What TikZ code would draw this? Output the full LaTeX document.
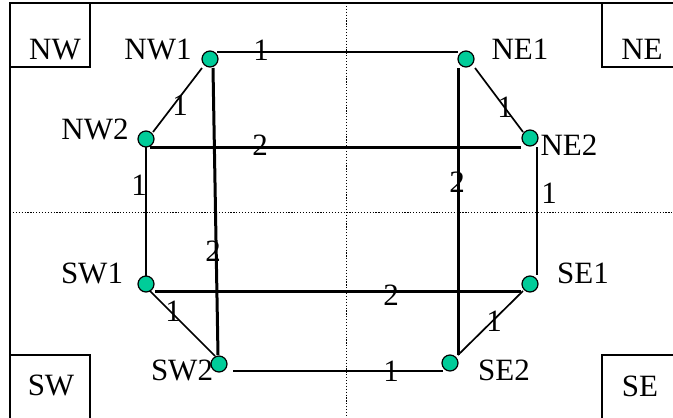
\documentclass[tikz,border=0pt]{standalone}
\usepackage{fontspec}
\setmainfont{Liberation Serif}
\definecolor{dotgreen}{RGB}{0,204,153}
\begin{document}
\begin{tikzpicture}[x=1pt,y=-1pt,
  frame/.style={line width=1.6pt},
  dotline/.style={line width=1pt, dash pattern=on 1.2pt off 1.7pt},
  thinedge/.style={line width=1.7pt},
  thickedge/.style={line width=3pt},
  dot/.style={circle, draw, line width=1.2pt, fill=dotgreen, minimum size=16pt, inner sep=0pt},
  lbl/.style={font=\fontsize{31}{36}\selectfont, inner sep=0pt, anchor=base},
  wlbl/.style={lbl}]
\useasboundingbox (0,0) rectangle (673,418);
\clip (0,0) rectangle (673,418);
% frame and corner boxes
\draw[frame] (10,440) -- (10,3) -- (690,3);
\draw[frame] (10,3) rectangle (90,67);
\draw[frame] (602,3) rectangle (690,67);
\draw[frame] (10,355) rectangle (90,440);
\draw[frame] (602,355) rectangle (690,440);
% dotted quadrant lines
\draw[dotline] (346,3) -- (346,418);
\draw[dotline] (10,212) -- (673,212);
% corner labels
\node[lbl] (nwt) at (55,59) {NW};
\node[lbl] (net) at (642,59) {NE};
\node[lbl] (swt) at (51,395) {SW};
\node[lbl] (set) at (640,396) {SE};
% nodes (positions)
\coordinate (NW1) at (210,59);
\coordinate (NW2) at (146,139);
\coordinate (NE1) at (466,59);
\coordinate (NE2) at (530,138);
\coordinate (SW1) at (146,284);
\coordinate (SW2) at (219,364);
\coordinate (SE1) at (530,284);
\coordinate (SE2) at (450,363);
% edges
\draw[thinedge] ([shift={(7,-7)}]NW1) -- ([shift={(-8,-7)}]NE1);
\draw[thinedge] ([shift={(-8,9)}]NW1) -- ([shift={(7,-7)}]NW2);
\draw[thickedge] ([shift={(4,8)}]NW2) -- ([shift={(-9,9)}]NE2);
\draw[thinedge] ([shift={(0,8)}]NW2) -- ([shift={(0,-8)}]SW1);
\draw[thickedge] ([shift={(3,9)}]NW1) -- ([shift={(-1,-9)}]SW2);
\draw[thinedge] ([shift={(9,9)}]NE1) -- ([shift={(-7,-6)}]NE2);
\draw[thickedge] ([shift={(-8,9)}]NE1) -- ([shift={(8,-8)}]SE2);
\draw[thinedge] ([shift={(7,9)}]NE2) -- ([shift={(7,-9)}]SE1);
\draw[thickedge] ([shift={(9,7)}]SW1) -- ([shift={(-9,7)}]SE1);
\draw[thinedge] ([shift={(3,6)}]SW1) -- ([shift={(-4,-8)}]SW2);
\draw[thinedge] ([shift={(-7,7)}]SE1) -- ([shift={(8,-8)}]SE2);
\draw[thinedge] ([shift={(14,7)}]SW2) -- ([shift={(-7,8)}]SE2);
% dots
\foreach \n in {NW1,NW2,NE1,NE2,SW1,SW2,SE1,SE2}
  \node[dot] (d\n) at (\n) {};
% node labels
\node[lbl] (tNW1) at (158,59) {NW1};
\node[lbl] (tNW2) at (95,139) {NW2};
\node[lbl] (tNE1) at (520,59) {NE1};
\node[lbl] (tNE2) at (569,155) {NE2};
\node[lbl] (tSW1) at (92,283) {SW1};
\node[lbl] (tSW2) at (182,380) {SW2};
\node[lbl] (tSE1) at (583,283) {SE1};
\node[lbl] (tSE2) at (504,380) {SE2};
% edge weights
\node[wlbl] (w1) at (261,60) {1};
\node[wlbl] (w2) at (180,115) {1};
\node[wlbl] (w3) at (260,155) {2};
\node[wlbl] (w4) at (139,195) {1};
\node[wlbl] (w5) at (213,261) {2};
\node[wlbl] (w6) at (505,117) {1};
\node[wlbl] (w7) at (457,192) {2};
\node[wlbl] (w8) at (549,203) {1};
\node[wlbl] (w9) at (391,305) {2};
\node[wlbl] (w10) at (173,321) {1};
\node[wlbl] (w11) at (494,331) {1};
\node[wlbl] (w12) at (391,381) {1};
\end{tikzpicture}
\end{document}
